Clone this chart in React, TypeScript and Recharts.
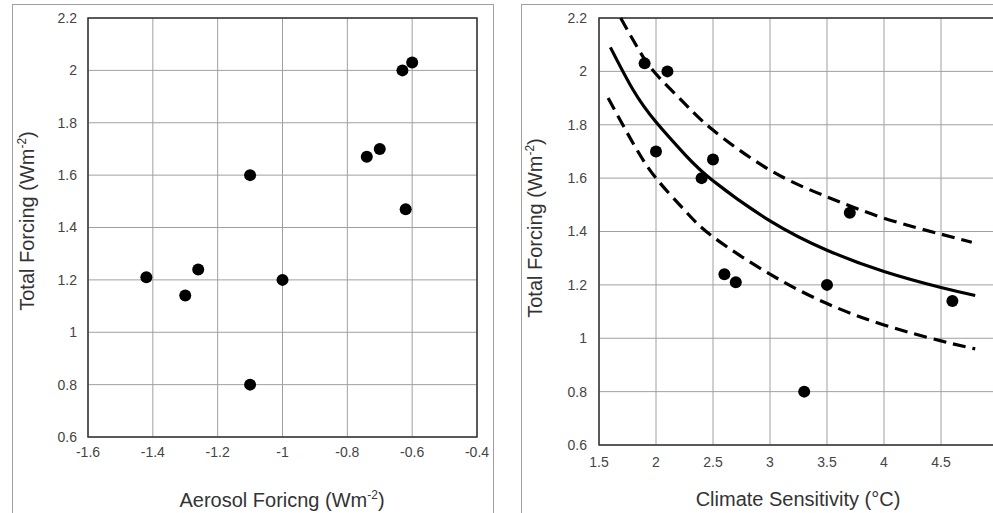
import { ComposedChart, Scatter, Line, XAxis, YAxis, CartesianGrid, ReferenceArea } from "recharts";

// left panel: models, aerosol forcing vs total forcing
const aerosolForcing = [-1.42, -1.3, -1.26, -1.1, -1.1, -1.0, -0.74, -0.7, -0.63, -0.6, -0.62];
const totalForcingA = [1.21, 1.14, 1.24, 1.6, 0.8, 1.2, 1.67, 1.7, 2.0, 2.03, 1.47];

// right panel: climate sensitivity vs total forcing
const sensitivity = [1.9, 2.1, 2.0, 2.4, 2.5, 2.6, 2.7, 3.5, 3.3, 3.7, 4.6];
const totalForcingB = [2.03, 2.0, 1.7, 1.6, 1.67, 1.24, 1.21, 1.2, 0.8, 1.47, 1.14];

// curves
const fitX = [1.6, 1.8, 2.0, 2.25, 2.5, 3.0, 3.5, 4.0, 4.5, 4.8];
const fitY = [2.09, 1.93, 1.81, 1.69, 1.59, 1.44, 1.33, 1.25, 1.19, 1.16];
const upperX = [1.69, 1.85, 2.0, 2.25, 2.5, 3.0, 3.5, 4.0, 4.5, 4.77];
const upperY = [2.2, 2.08, 1.99, 1.88, 1.78, 1.63, 1.53, 1.45, 1.39, 1.36];
const lowerX = [1.58, 1.8, 2.0, 2.25, 2.5, 3.0, 3.5, 4.0, 4.5, 4.8];
const lowerY = [1.9, 1.73, 1.6, 1.48, 1.38, 1.24, 1.13, 1.05, 0.99, 0.96];

const aerosolTicks = [-1.6, -1.4, -1.2, -1, -0.8, -0.6, -0.4];
const sensitivityTicks = [1.5, 2, 2.5, 3, 3.5, 4, 4.5, 5];
const forcingTicks = [0.6, 0.8, 1, 1.2, 1.4, 1.6, 1.8, 2, 2.2];

const rows = (xs: number[], ys: number[]) => xs.map((x, i) => ({ x, y: ys[i] }));

const font = "'Liberation Sans', Arial, Helvetica, sans-serif";
const tickStyle = { fill: "#444", fontSize: 14, fontFamily: font };
const fmt = (v: number) => String(Number(v.toFixed(2)));

const Dot = (p: any) => <circle cx={p.cx} cy={p.cy} r={6} fill="#000" />;

function Title({ x, y, text, rotate }: { x: number; y: number; text: string; rotate?: boolean }) {
  return (
    <text
      x={x}
      y={y}
      textAnchor="middle"
      fontSize={20}
      fontFamily={font}
      fill="#333"
      transform={rotate ? `rotate(-90, ${x}, ${y})` : undefined}
    >
      {text}
      <tspan dy={-8} fontSize={12}>-2</tspan>
      <tspan dy={8}>)</tspan>
    </text>
  );
}

export default function App() {
  return (
    <div style={{ position: "fixed", left: 0, top: 0, width: 993, height: 513, overflow: "hidden", background: "#fff" }}>
      <div style={{ position: "absolute", left: 12, top: 4, width: 480, height: 530, border: "1px solid #a0a0a0" }} />
      <div style={{ position: "absolute", left: 521, top: 4, width: 520, height: 530, border: "1px solid #a0a0a0" }} />

      <div style={{ position: "absolute", left: 0, top: 0 }}>
        <ComposedChart width={493} height={513} margin={{ top: 18, right: 16, left: 28, bottom: 46 }}>
          <CartesianGrid stroke="#a0a0a0" />
          <XAxis
            type="number"
            dataKey="x"
            domain={[-1.6, -0.4]}
            ticks={aerosolTicks}
            height={30}
            axisLine={false}
            tickLine={false}
            tickSize={0}
            tickMargin={10}
            tick={tickStyle}
            tickFormatter={fmt}
          />
          <YAxis
            type="number"
            dataKey="y"
            domain={[0.6, 2.2]}
            ticks={forcingTicks}
            width={60}
            axisLine={false}
            tickLine={false}
            tickSize={0}
            tickMargin={11}
            tick={tickStyle}
            tickFormatter={fmt}
          />
          <ReferenceArea x1={-1.6} x2={-0.4} y1={0.6} y2={2.2} fill="none" stroke="#333" strokeWidth={1.5} />
          <Scatter data={rows(aerosolForcing, totalForcingA)} shape={Dot} isAnimationActive={false} />
        </ComposedChart>
      </div>

      <div style={{ position: "absolute", left: 500, top: 0 }}>
        <ComposedChart width={520} height={513} margin={{ top: 18, right: 22, left: 39, bottom: 38 }}>
          <CartesianGrid stroke="#a0a0a0" />
          <XAxis
            type="number"
            dataKey="x"
            domain={[1.5, 5]}
            ticks={sensitivityTicks}
            height={30}
            axisLine={false}
            tickLine={false}
            tickSize={0}
            tickMargin={12}
            tick={tickStyle}
            tickFormatter={fmt}
          />
          <YAxis
            type="number"
            dataKey="y"
            domain={[0.6, 2.2]}
            ticks={forcingTicks}
            width={60}
            axisLine={false}
            tickLine={false}
            tickSize={0}
            tickMargin={12}
            tick={tickStyle}
            tickFormatter={fmt}
          />
          <ReferenceArea x1={1.5} x2={5} y1={0.6} y2={2.2} fill="none" stroke="#333" strokeWidth={1.5} />
          <Line data={rows(upperX, upperY)} dataKey="y" type="natural" stroke="#000" strokeWidth={3.2} strokeDasharray="13 7" dot={false} isAnimationActive={false} />
          <Line data={rows(fitX, fitY)} dataKey="y" type="natural" stroke="#000" strokeWidth={3.2} dot={false} isAnimationActive={false} />
          <Line data={rows(lowerX, lowerY)} dataKey="y" type="natural" stroke="#000" strokeWidth={3.2} strokeDasharray="13 7" dot={false} isAnimationActive={false} />
          <Scatter data={rows(sensitivity, totalForcingB)} shape={Dot} isAnimationActive={false} />
        </ComposedChart>
      </div>

      <svg width={993} height={513} style={{ position: "absolute", left: 0, top: 0, pointerEvents: "none" }}>
        <Title x={282} y={507} text="Aerosol Foricng (Wm" />
        <Title x={34} y={221} text="Total Forcing (Wm" rotate />
        <Title x={542} y={228} text="Total Forcing (Wm" rotate />
        <text x={798} y={506} textAnchor="middle" fontSize={20} fontFamily={font} fill="#333">
          Climate Sensitivity (°C)
        </text>
      </svg>
    </div>
  );
}
